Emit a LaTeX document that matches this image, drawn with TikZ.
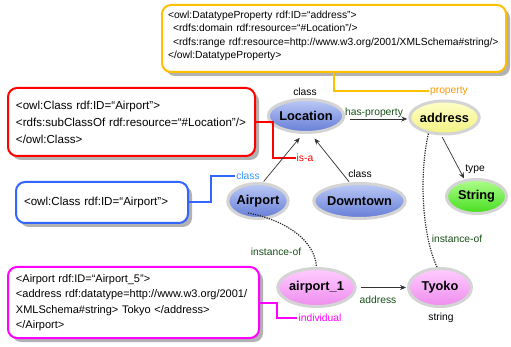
\documentclass[tikz,border=0pt]{standalone}
\usepackage{fontspec}
\setmainfont{Liberation Sans}
\usetikzlibrary{shapes.geometric,arrows.meta,shadows,calc}

% palette
\definecolor{ygold}{RGB}{255,192,0}
\definecolor{porange}{RGB}{255,153,0}
\definecolor{rred}{RGB}{255,0,0}
\definecolor{bblue}{RGB}{51,102,255}
\definecolor{lblue}{RGB}{51,153,255}
\definecolor{mmag}{RGB}{255,0,255}
\definecolor{dgreen}{RGB}{25,80,25}
\definecolor{halo}{RGB}{212,212,212}
\definecolor{clsTop}{RGB}{188,202,246}
\definecolor{clsBot}{RGB}{100,124,214}
\definecolor{prpTop}{RGB}{255,255,200}
\definecolor{prpBot}{RGB}{242,242,130}
\definecolor{typTop}{RGB}{175,255,140}
\definecolor{typBot}{RGB}{70,220,30}
\definecolor{indTop}{RGB}{255,205,255}
\definecolor{indBot}{RGB}{238,140,238}

\begin{document}
\begin{tikzpicture}[x=1pt,y=-1pt,
  codebox/.style={draw, line width=2pt, rounded corners=9pt, fill=white,
    align=left, inner ysep=0pt,
    drop shadow={shadow xshift=4pt, shadow yshift=-4pt, fill=black!30, opacity=1}},
  codetext/.style={font=\fontsize{11.6}{17}\selectfont},
  ent/.style={ellipse, draw=halo, line width=3pt, inner sep=0pt,
    font=\fontsize{12.8}{14}\selectfont\bfseries},
  clsnode/.style={ent, top color=clsTop, bottom color=clsBot},
  prpnode/.style={ent, top color=prpTop, bottom color=prpBot},
  typnode/.style={ent, top color=typTop, bottom color=typBot},
  indnode/.style={ent, top color=indTop, bottom color=indBot},
  lbl/.style={inner sep=1pt, font=\fontsize{10.3}{12}\selectfont},
  arr/.style={-{Stealth[length=6pt,width=5pt]}, line width=0.7pt, draw=black!80},
  dots/.style={line width=1.2pt, dash pattern=on 1.2pt off 1.2pt, draw=black!85},
  link/.style={line width=2pt}
]
\useasboundingbox (0,0) rectangle (511,347);
\fill[white] (0,0) rectangle (511,347);

% ---- code boxes ----
\node[codebox, draw=ygold, minimum width=344pt, minimum height=67pt,
      text width=332pt, inner xsep=6pt,
      font=\fontsize{10.3}{13.3}\selectfont] (ybox) at (334,38.5)
  {\mbox{<owl:DatatypeProperty rdf:ID=“address”>}\\
   \mbox{\hspace*{5pt}<rdfs:domain rdf:resource=“\#Location”/>}\\
   \mbox{\hspace*{5pt}<rdfs:range rdf:resource=http://www.w3.org/2001/XMLSchema\#string/>}\\
   \mbox{</owl:DatatypeProperty>}\\[-6pt]\mbox{}};

\node[codebox, codetext, draw=rred, minimum width=247pt, minimum height=68pt,
      text width=231pt, inner xsep=8pt] (rbox) at (131.5,122)
  {\mbox{<owl:Class rdf:ID=“Airport”>}\\
   \mbox{<rdfs:subClassOf rdf:resource=“\#Location”/>}\\
   \mbox{</owl:Class>}};

\node[codebox, codetext, draw=bblue, minimum width=172pt, minimum height=41pt,
      text width=156pt, inner xsep=8pt] (bbox) at (102,202.5)
  {\mbox{<owl:Class rdf:ID=“Airport”>}};

\node[codebox, draw=mmag, minimum width=251pt, minimum height=71pt,
      text width=235pt, inner xsep=8pt,
      font=\fontsize{11}{15.5}\selectfont] (mbox) at (133.5,302.5)
  {\mbox{<Airport rdf:ID=“Airport\_5”>}\\
   \mbox{<address rdf:datatype=http://www.w3.org/2001/}\\
   \mbox{XMLSchema\#string> Tokyo </address>}\\
   \mbox{</Airport>}};

% ---- graph nodes ----
\node[clsnode, minimum width=58pt, minimum height=33pt] (loc) at (306,116) {Location};
\node[prpnode, minimum width=62pt, minimum height=33pt] (addr) at (444.5,117.5) {address};
\node[clsnode, minimum width=59pt, minimum height=35pt] (air) at (258,201) {Airport};
\node[clsnode, minimum width=64pt, minimum height=35pt] (down) at (359.5,201) {Downtown};
\node[typnode, minimum width=60pt, minimum height=34pt] (str) at (476.5,196.5) {String};
\node[indnode, minimum width=64pt, minimum height=38pt] (a1) at (316.5,287.5) {airport\_1};
\node[indnode, minimum width=63pt, minimum height=38pt] (ty) at (440,287.5) {Tyoko};

% ---- labels ----
\node[lbl] (lcls) at (305,92) {class};
\node[lbl, text=dgreen] (hp) at (374,113) {has-property};
\node[lbl, text=porange] (prop) at (449,91) {property};
\node[lbl, text=rred] (isa) at (305,158) {is-a};
\node[lbl, text=lblue] (bcls) at (248,176) {class};
\node[lbl] (dcls) at (360,174) {class};
\node[lbl] (typ) at (475,169) {type};
\node[lbl, text=dgreen] (io1) at (276,252) {instance-of};
\node[lbl, text=dgreen] (io2) at (457,239) {instance-of};
\node[lbl, text=dgreen] (adl) at (378,300) {address};
\node[lbl, text=mmag] (indiv) at (320,318) {individual};
\node[lbl] (strl) at (441,318) {string};

% ---- callout links from the code boxes ----
\draw[link, ygold] (ybox.south) |- (prop.west);
\draw[link, rred] (rbox.east) -- ++(17,0) |- (isa.west);
\draw[link, bblue] (bbox.east) -- ++(22,0) |- (bcls.west);
\draw[link, mmag] (mbox.east) -- ++(17,0) |- (indiv.west);

% ---- relations ----
\draw[arr, shorten <=5pt, shorten >=1pt]
  ([yshift=-3pt]loc.east) -- ([yshift=-3pt]loc.east -| addr.west);
\draw[arr, shorten <=1pt, shorten >=5pt] (air.75) -- (loc.-100);
\draw[arr, shorten <=1pt, shorten >=6pt] (down.118) -- (loc.-75);
\draw[arr, shorten <=2pt, shorten >=1pt] (addr.-100) -- (str.125);
\draw[arr, shorten <=4pt, shorten >=1pt] (a1.east) -- (ty.west);

\draw[dots] ([xshift=-10pt,yshift=-12pt]air.center)
  .. controls (285,220) and (315,240) .. (a1.north);
\draw[dots] (addr.-135)
  .. controls (419,175) and (422,235) .. ([xshift=-3pt]ty.north);
\end{tikzpicture}
\end{document}
